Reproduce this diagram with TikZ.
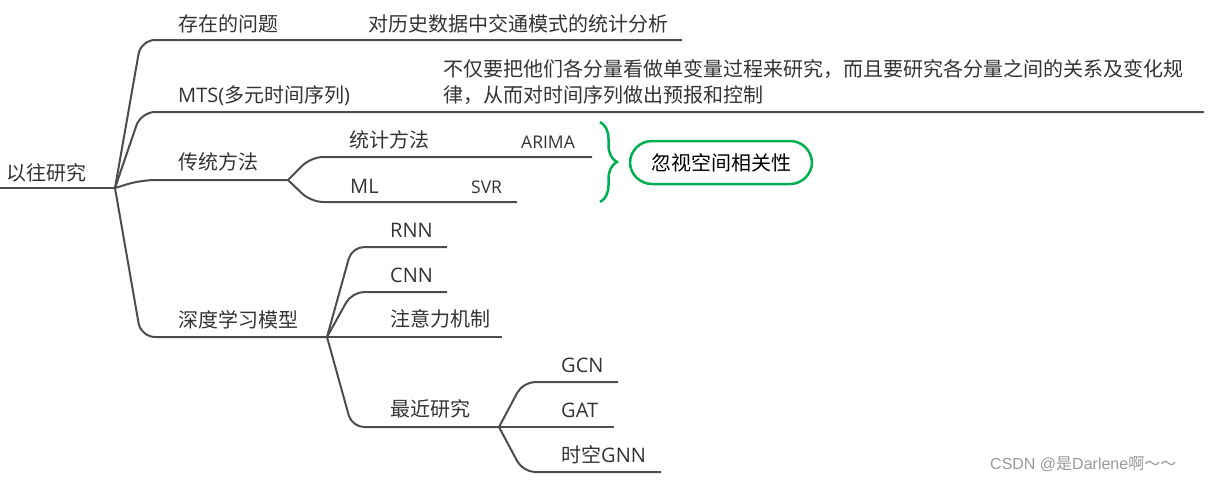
\documentclass[tikz,border=0pt]{standalone}
\usepackage{fontspec}
\setmainfont{Noto Sans CJK SC}
\newfontfamily\latinfont{Open Sans}
\newfontfamily\wmfont{Liberation Sans}
\usetikzlibrary{calc,decorations.pathreplacing}
\definecolor{txt}{HTML}{333333}
\definecolor{linegray}{HTML}{4D4D4D}
\definecolor{notegreen}{HTML}{00B050}

\begin{document}
\begin{tikzpicture}[x=1pt, y=-1pt,
  branch/.style={draw=linegray, line width=2pt, rounded corners=14pt},
  subbranch/.style={branch, rounded corners=12pt},
  lbl/.style={anchor=base west, inner sep=0pt, text=txt, font=\fontsize{20}{25}\selectfont},
  lat/.style={lbl, font=\fontsize{20}{25}\latinfont},
  small/.style={lbl, font=\fontsize{17.5}{21}\latinfont}]
\useasboundingbox (0,0) rectangle (1220,482);

% root
\node (root) [lbl] at (6,180) {以往研究};
\coordinate (start) at (0,188);
\coordinate (hub) at (115,188);
\draw[branch] (start) -- (hub);

% first level
\node (issue) [lbl] at (178,31) {存在的问题};
\node (issuetxt) [lbl] at (368,31) {对历史数据中交通模式的统计分析};
\coordinate (issueend) at (682,40);
\node (mts) [lbl] at (178,102.5) {{\latinfont MTS(}多元时间序列{\latinfont )}};
\node (mtstxt) [lbl, anchor=west, align=left, font=\fontsize{20}{26}\selectfont] at (443,82)
  {不仅要把他们各分量看做单变量过程来研究，而且要研究各分量之间的关系及变化规\\律，从而对时间序列做出预报和控制};
\coordinate (mtsend) at (1204,112);
\node (trad) [lbl] at (178,169.5) {传统方法};
\coordinate (tradhub) at (288,180);
\node (deep) [lbl] at (178,327.5) {深度学习模型};
\coordinate (deephub) at (327,337);

\draw[branch] (hub) -- ($(hub |- issueend)+(26,0)$) -- (issueend);
\draw[branch] (hub) -- ($(hub |- mtsend)+(26,0)$) -- (mtsend);
\draw[branch] (hub) -- ($(hub |- tradhub)+(26,0)$) -- (tradhub);
\draw[branch] (hub) -- ($(hub |- deephub)+(26,0)$) -- (deephub);

% traditional methods
\node (stat) [lbl] at (349,147.5) {统计方法};
\node (arima) [small] at (521,148) {ARIMA};
\coordinate (statend) at (592,157);
\node (ml) [lat] at (350,193) {ML};
\node (svr) [small] at (471,193) {SVR};
\coordinate (mlend) at (517,202);
\draw[subbranch] (tradhub) -- ($(tradhub |- statend)+(23,0)$) -- (statend);
\draw[subbranch] (tradhub) -- ($(tradhub |- mlend)+(23,0)$) -- (mlend);

% note
\draw[notegreen, line width=2.5pt, decorate, decoration={brace, amplitude=17pt}] (600,122) -- (600,202);
\node (note) [draw=notegreen, line width=2.5pt, rounded corners=22pt, minimum width=182pt,
  minimum height=43pt, text=black, font=\fontsize{20}{25}\selectfont] at (721,162.5) {忽视空间相关性};

% deep learning
\node (rnn) [lat] at (390,237) {RNN};
\coordinate (rnnend) at (447,247);
\node (cnn) [lat] at (390,282) {CNN};
\coordinate (cnnend) at (447,292);
\node (att) [lbl] at (390,326.5) {注意力机制};
\coordinate (attend) at (502,337);
\node (recent) [lbl] at (390,416.5) {最近研究};
\coordinate (recenthub) at (499,427);
\draw[subbranch] (deephub) -- ($(deephub |- rnnend)+(25,0)$) -- (rnnend);
\draw[subbranch] (deephub) -- ($(deephub |- cnnend)+(25,0)$) -- (cnnend);
\draw[subbranch] (deephub) -- (attend);
\draw[subbranch] (deephub) -- ($(deephub |- recenthub)+(25,0)$) -- (recenthub);

% recent work
\node (gcn) [lat] at (561,372) {GCN};
\coordinate (gcnend) at (618,382);
\node (gat) [lat] at (561,417) {GAT};
\coordinate (gatend) at (614,427);
\node (stgnn) [lbl] at (561,462) {时空{\latinfont GNN}};
\coordinate (stgnnend) at (661,472);
\draw[subbranch] (recenthub) -- ($(recenthub |- gcnend)+(24,0)$) -- (gcnend);
\draw[subbranch] (recenthub) -- (gatend);
\draw[subbranch] (recenthub) -- ($(recenthub |- stgnnend)+(24,0)$) -- (stgnnend);

\node (wm) [anchor=base west, inner sep=0pt, text=black!40, font=\fontsize{16}{18}\selectfont] at (990,469)
  {{\wmfont CSDN @}是{\wmfont Darlene}啊～～};
\end{tikzpicture}
\end{document}
